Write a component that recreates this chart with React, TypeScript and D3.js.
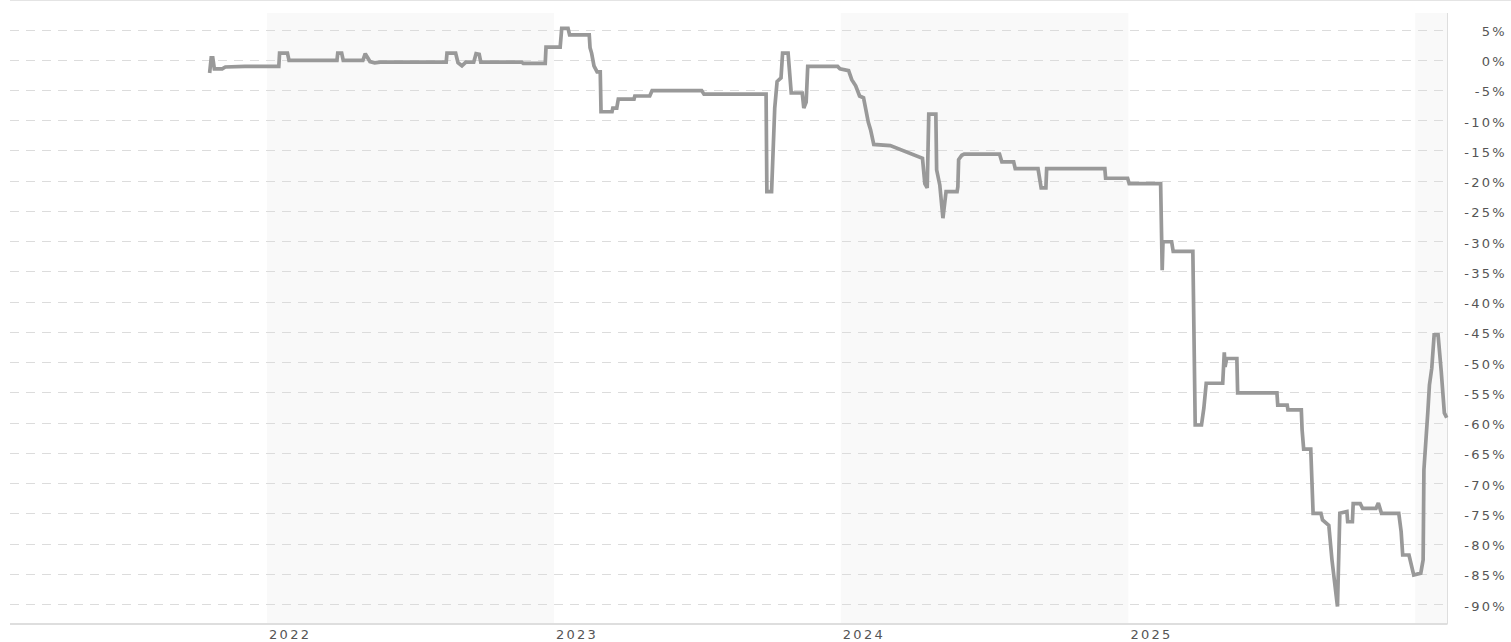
import React from "react";
import * as d3 from "d3";

const dates: string[] = [
  "2021-10-20","2021-10-22","2021-10-24","2021-10-26","2021-11-05","2021-11-09","2021-12-04",
  "2022-01-16","2022-01-17","2022-01-27","2022-01-29","2022-03-31","2022-04-01","2022-04-06","2022-04-08",
  "2022-05-03","2022-05-06","2022-05-12","2022-05-18","2022-05-25","2022-08-17","2022-08-18","2022-08-29",
  "2022-09-01","2022-09-06","2022-09-11","2022-09-21","2022-09-24","2022-09-28","2022-09-30","2022-11-21",
  "2022-11-23","2022-12-21","2022-12-22","2023-01-09","2023-01-11","2023-01-19","2023-01-21","2023-02-15",
  "2023-02-16","2023-02-18","2023-02-21","2023-02-25","2023-03-01","2023-03-02","2023-03-16","2023-03-17",
  "2023-03-22","2023-03-24","2023-04-13","2023-04-14","2023-05-03","2023-05-06","2023-07-08","2023-07-11",
  "2023-09-28","2023-09-29","2023-10-05","2023-10-09","2023-10-12","2023-10-17","2023-10-19","2023-10-26",
  "2023-10-30","2023-11-13","2023-11-15","2023-11-18","2023-11-20","2023-12-28","2023-12-31","2024-01-11",
  "2024-01-15","2024-01-20","2024-01-25","2024-01-30","2024-02-02","2024-02-05","2024-02-08","2024-02-12",
  "2024-03-04","2024-04-14","2024-04-17","2024-04-20","2024-04-22","2024-05-01","2024-05-02","2024-05-06",
  "2024-05-10","2024-05-14","2024-05-28","2024-05-29","2024-05-30","2024-06-03","2024-06-06","2024-07-21",
  "2024-07-24","2024-08-08","2024-08-10","2024-09-08","2024-09-12","2024-09-18","2024-09-19","2024-12-02",
  "2024-12-03","2024-12-31","2025-01-02","2025-02-11","2025-02-13","2025-02-14","2025-02-25","2025-02-27",
  "2025-03-24","2025-03-27","2025-04-04","2025-04-07","2025-04-10","2025-05-01","2025-05-03","2025-05-04",
  "2025-05-06","2025-05-19","2025-05-20","2025-07-09","2025-07-10","2025-07-22","2025-07-23","2025-08-09",
  "2025-08-10","2025-08-12","2025-08-21","2025-08-24","2025-09-03","2025-09-05","2025-09-13","2025-09-17",
  "2025-09-24","2025-09-27","2025-10-06","2025-10-07","2025-10-13","2025-10-14","2025-10-23","2025-10-26",
  "2025-11-12","2025-11-15","2025-11-19","2025-12-11","2025-12-14","2025-12-16","2025-12-24","2025-12-30",
  "2026-01-08","2026-01-11","2026-01-12","2026-01-17","2026-01-19","2026-01-22","2026-01-25","2026-01-30",
  "2026-02-03","2026-02-07","2026-02-10",
];

const values: number[] = [
  -2.2, 0.3, 0.3, -1.5, -1.5, -1.2, -1.1,
  -1.1, 1.1, 1.1, -0.1, -0.1, 1.1, 1.1, -0.1,
  -0.1, 1.0, -0.3, -0.5, -0.4, -0.4, 1.1, 1.1,
  -0.5, -1.0, -0.4, -0.4, 1.0, 0.9, -0.4, -0.4,
  -0.6, -0.6, 2.1, 2.1, 5.2, 5.2, 4.1, 4.1,
  2.0, 1.1, -1.0, -2.0, -2.0, -8.6, -8.6, -8.0,
  -8.0, -6.5, -6.5, -6.0, -6.0, -5.1, -5.1, -5.7,
  -5.7, -21.8, -21.8, -8.0, -3.6, -3.0, 1.1, 1.1,
  -5.5, -5.5, -8.0, -7.0, -1.1, -1.1, -1.5, -1.8,
  -3.3, -4.3, -6.0, -6.3, -8.3, -10.3, -11.6, -14.0,
  -14.2, -16.3, -20.5, -21.2, -9.0, -9.0, -18.2, -20.7,
  -26.2, -21.8, -21.8, -21.0, -16.5, -15.8, -15.6, -15.6,
  -16.9, -16.9, -18.0, -18.0, -21.2, -21.2, -18.0, -18.0,
  -19.6, -19.6, -20.5, -20.5, -34.8, -30.1, -30.1, -31.7,
  -31.7, -60.4, -60.4, -57.6, -53.5, -53.5, -48.4, -50.8,
  -49.4, -49.4, -55.1, -55.1, -57.1, -57.1, -57.9, -57.9,
  -61.2, -64.4, -64.4, -75.0, -75.0, -76.1, -77.0, -82.7,
  -90.4, -75.0, -74.7, -76.4, -76.4, -73.4, -73.4, -74.2,
  -74.2, -73.3, -75.0, -75.0, -78.0, -81.9, -81.9, -85.2,
  -84.9, -82.7, -67.8, -58.2, -53.8, -51.0, -45.5, -45.5,
  -51.5, -58.4, -59.2,
];

const yTicks: number[] = [5, 0, -5, -10, -15, -20, -25, -30, -35, -40, -45, -50, -55, -60, -65, -70, -75, -80, -85, -90];
const xTickYears: number[] = [2022, 2023, 2024, 2025];
const shadedYears: number[] = [2022, 2024, 2026];
const domainStart = "2021-02-08";
const domainEnd = "2026-02-11";

const W = 1511;
const H = 642;
const left = 10;
const right = 1447.5;
const plotTop = 13;
const bottom = 624;

export default function App() {
  const parse = d3.timeParse("%Y-%m-%d");
  const x = d3.scaleTime().domain([parse(domainStart)!, parse(domainEnd)!]).range([left, right]);
  const y = d3.scaleLinear().domain([5, -90]).range([29.5, 604]);
  const data = dates.map((d, i) => ({ d: parse(d)!, v: values[i] }));
  const line = d3.line<{ d: Date; v: number }>().x((p) => x(p.d)).y((p) => y(p.v));
  const font = "'DejaVu Sans', Verdana, sans-serif";

  return (
    <svg width={W} height={H} style={{ position: "absolute", left: 0, top: 0, background: "#fff" }}>
      <line x1={left} x2={W} y1={0.5} y2={0.5} stroke="#e4e4e4" strokeWidth={1} />
      {shadedYears.map((yr) => {
        const x0 = Math.max(left, x(new Date(yr, 0, 1)));
        const x1 = Math.min(right, x(new Date(yr + 1, 0, 1)));
        return x1 > x0 ? (
          <rect key={yr} x={x0} y={plotTop} width={x1 - x0} height={bottom - plotTop} fill="#f9f9f9" />
        ) : null;
      })}
      {yTicks.map((t) => (
        <line key={t} x1={left} x2={right} y1={Math.round(y(t)) + 0.5} y2={Math.round(y(t)) + 0.5}
          stroke="#dcdcdc" strokeWidth={1.2} strokeDasharray="9,7" />
      ))}
      <line x1={right} x2={right} y1={plotTop} y2={bottom} stroke="#dedede" strokeWidth={1} />
      <line x1={left} x2={right} y1={bottom} y2={bottom} stroke="#dedede" strokeWidth={2} />
      <path d={line(data) || ""} fill="none" stroke="#999999" strokeWidth={3.7} strokeLinejoin="miter" strokeMiterlimit={2} />
      {yTicks.map((t) => (
        <text key={t} x={1507} y={y(t) + 6.5} textAnchor="end" fontFamily={font} fontSize={13}
          letterSpacing={2.3} fill="#555">{`${t}%`}</text>
      ))}
      {xTickYears.map((yr) => (
        <text key={yr} x={x(new Date(yr, 0, 1)) + 2} y={638.5} fontFamily={font} fontSize={13}
          letterSpacing={2.3} fill="#555">{String(yr)}</text>
      ))}
    </svg>
  );
}
